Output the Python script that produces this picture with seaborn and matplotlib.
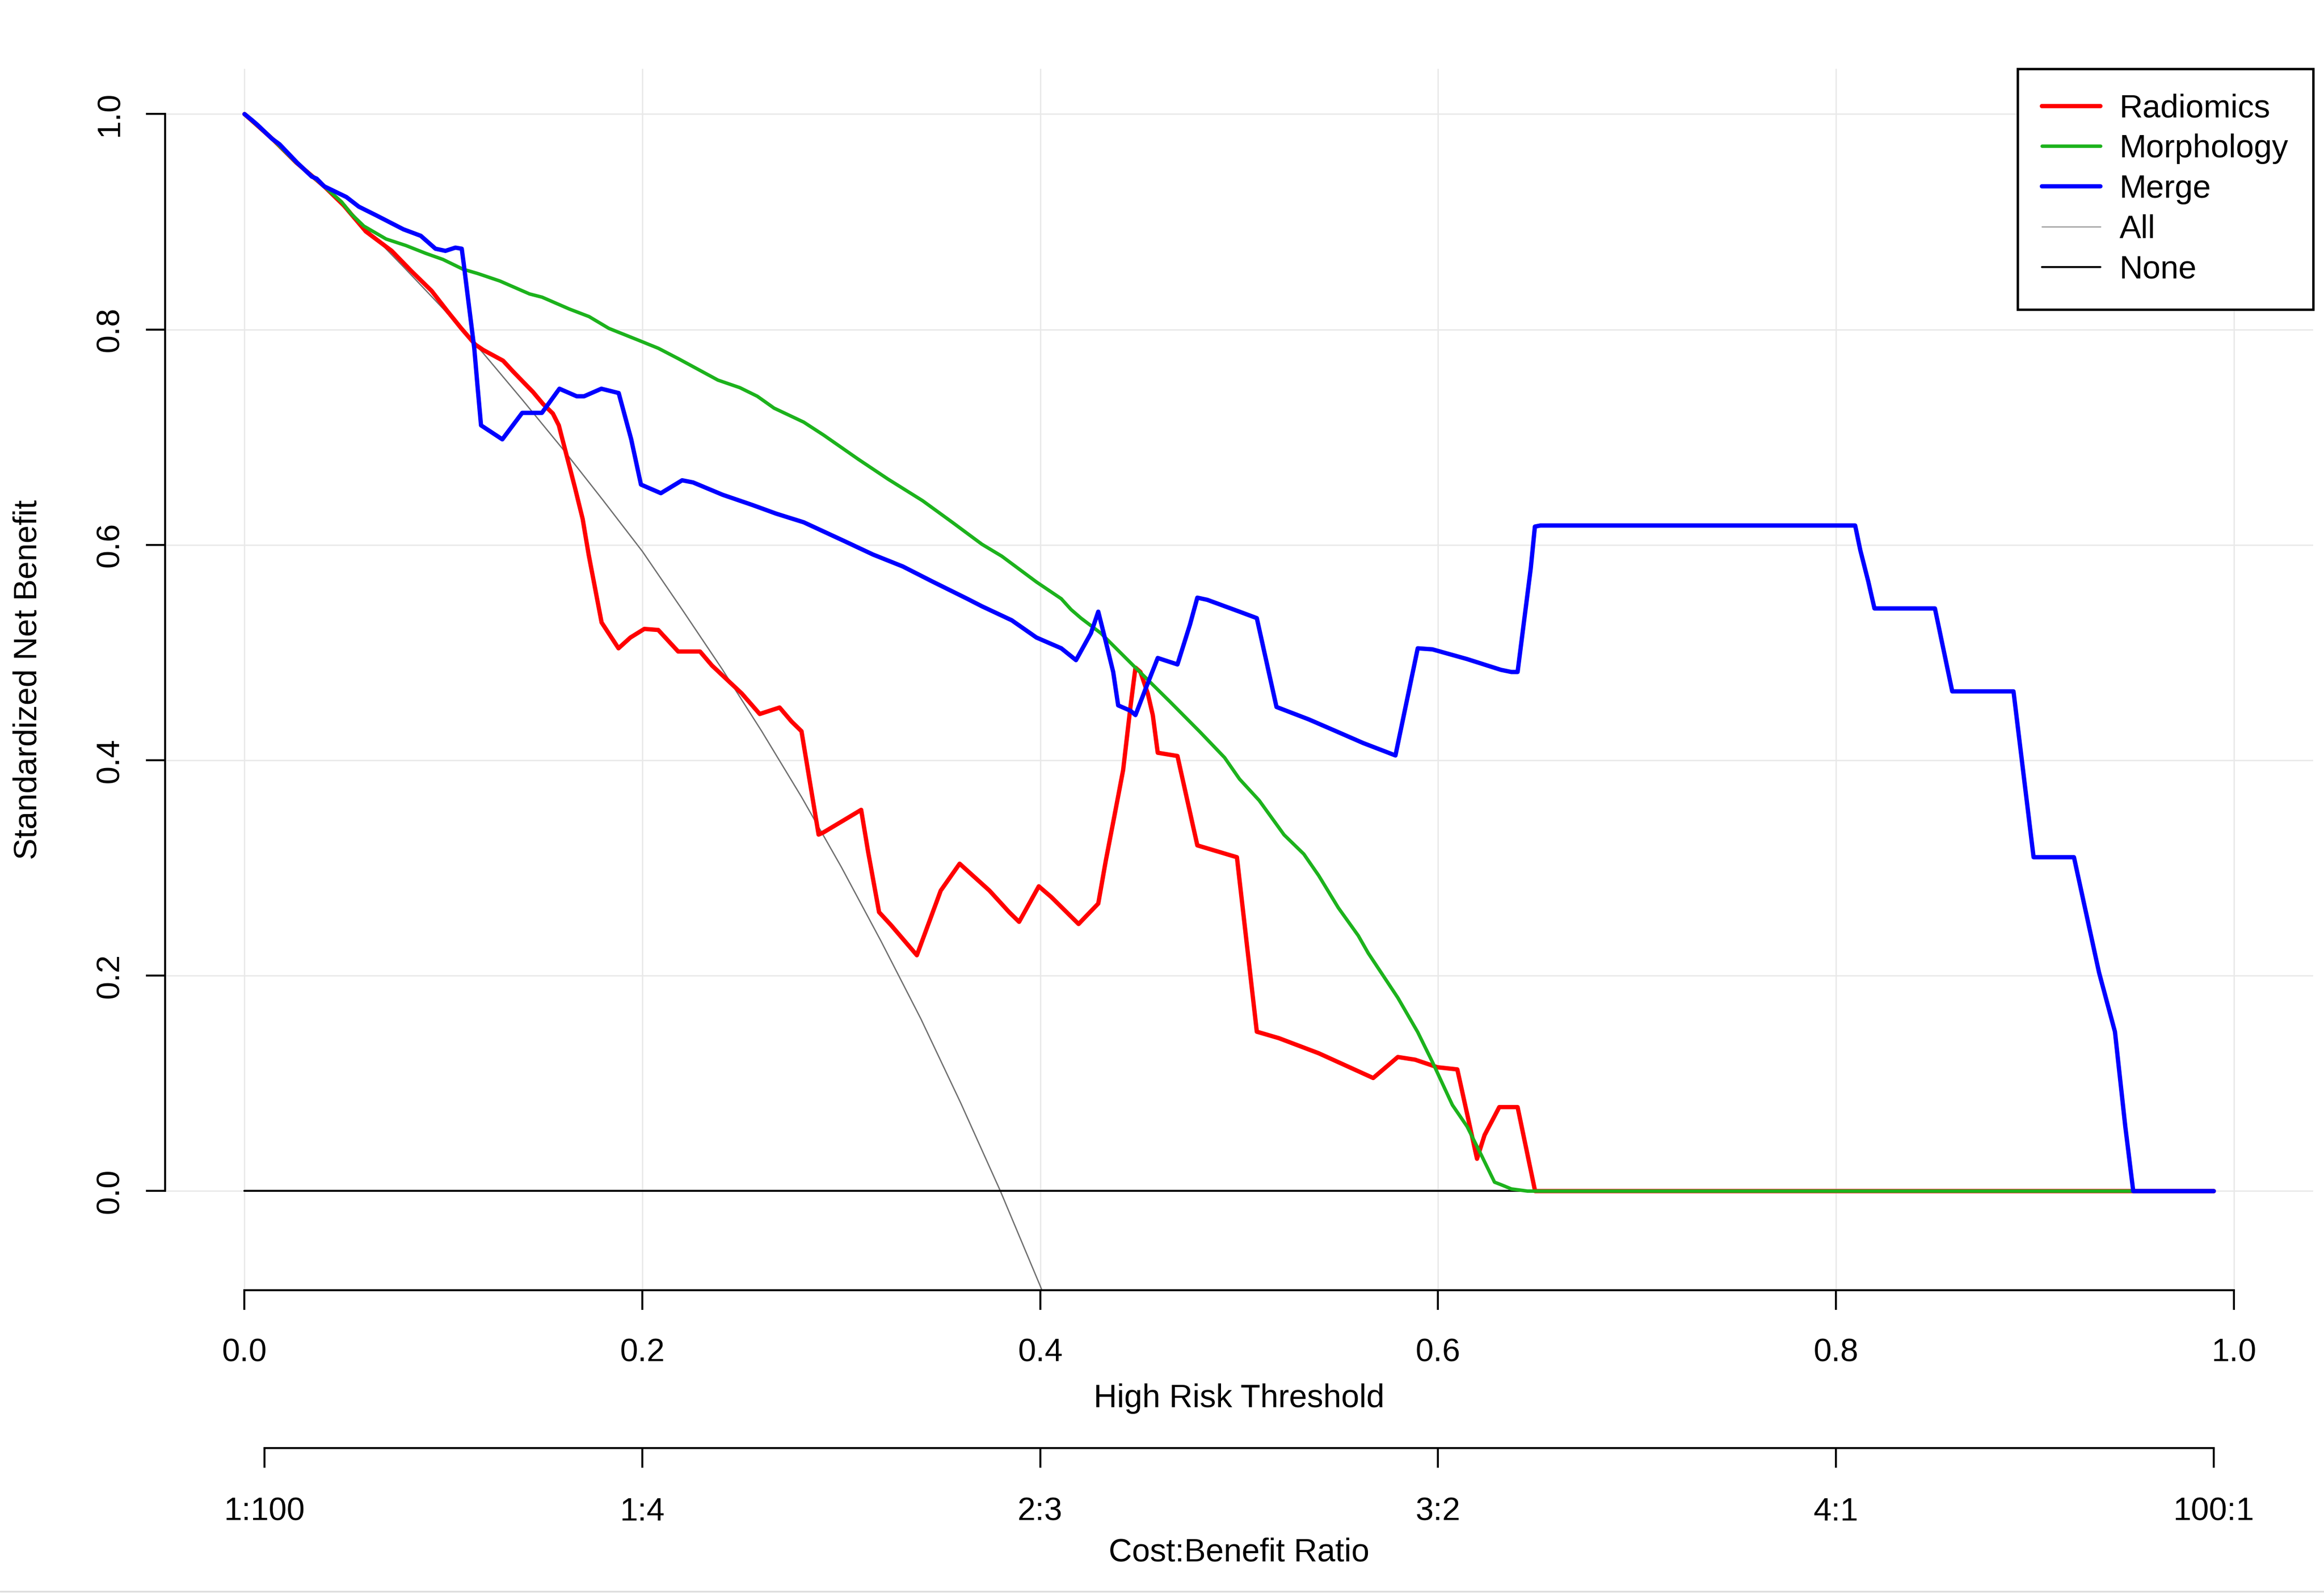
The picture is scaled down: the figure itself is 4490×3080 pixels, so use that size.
import matplotlib
matplotlib.use("Agg")
import matplotlib.pyplot as plt
import seaborn as sns
from matplotlib.lines import Line2D

# --- Data: standardized net benefit ---
radiomics_x = [0.0, 0.014, 0.026, 0.040, 0.050, 0.061, 0.074, 0.084, 0.094, 0.102, 0.109, 0.116,
               0.120, 0.130, 0.135, 0.145, 0.150, 0.155, 0.158, 0.166, 0.170, 0.173, 0.176, 0.1795,
               0.188, 0.194, 0.201, 0.208, 0.218, 0.229, 0.235, 0.250, 0.259, 0.269, 0.275, 0.280,
               0.2886, 0.291, 0.310, 0.3135, 0.319, 0.325, 0.338, 0.350, 0.3595, 0.3745, 0.3844,
               0.3894, 0.3993, 0.4056, 0.4193, 0.4292, 0.433, 0.438, 0.4417, 0.4454, 0.4479, 0.4504,
               0.4541, 0.4566, 0.4591, 0.469, 0.479, 0.4989, 0.5089, 0.520, 0.540, 0.5674, 0.5798,
               0.5885, 0.5997, 0.6097, 0.6196, 0.6234, 0.6308, 0.640, 0.6488, 0.99]
radiomics_y = [1.0, 0.977, 0.955, 0.933, 0.915, 0.891, 0.873, 0.854, 0.836, 0.817, 0.801, 0.786,
               0.781, 0.771, 0.761, 0.742, 0.731, 0.722, 0.711, 0.654, 0.624, 0.591, 0.562, 0.528,
               0.504, 0.514, 0.522, 0.521, 0.501, 0.501, 0.488, 0.462, 0.443, 0.449, 0.436, 0.427,
               0.331, 0.333, 0.354, 0.315, 0.259, 0.247, 0.219, 0.279, 0.304, 0.279, 0.259,
               0.250, 0.283, 0.273, 0.248, 0.267, 0.307, 0.355, 0.391, 0.450, 0.486, 0.482,
               0.462, 0.442, 0.407, 0.404, 0.321, 0.310, 0.148, 0.142, 0.128, 0.105, 0.1245,
               0.122, 0.115, 0.113, 0.030, 0.052, 0.078, 0.078, 0.0, 0.0]

morphology_x = [0.0, 0.014, 0.026, 0.040, 0.0488, 0.0538, 0.060, 0.0712, 0.0811, 0.0911, 0.0998,
                0.1098, 0.1172, 0.1284, 0.1433, 0.1496, 0.1633, 0.1732, 0.1832, 0.1981, 0.2081,
                0.218, 0.238, 0.249, 0.2578, 0.2662, 0.2811, 0.2911, 0.3085, 0.3234, 0.3409,
                0.3558, 0.3707, 0.3807, 0.3981, 0.4106, 0.4155, 0.4205, 0.4305, 0.4479, 0.4653,
                0.4803, 0.4927, 0.5002, 0.5101, 0.5226, 0.5325, 0.540, 0.5499, 0.5599, 0.5649,
                0.5798, 0.5898, 0.5972, 0.6072, 0.6146, 0.6221, 0.6284, 0.6316, 0.6369, 0.645, 0.99]
morphology_y = [1.0, 0.977, 0.955, 0.933, 0.9185, 0.907, 0.896, 0.884, 0.878, 0.8707, 0.865,
                0.856, 0.852, 0.845, 0.833, 0.830, 0.819, 0.812, 0.801, 0.790, 0.7825,
                0.773, 0.753, 0.746, 0.738, 0.727, 0.714, 0.702, 0.6796, 0.6612, 0.641,
                0.621, 0.6006, 0.5895, 0.5656, 0.550, 0.540, 0.532, 0.518, 0.486, 0.4543,
                0.4264, 0.4025, 0.3826, 0.3627, 0.3308, 0.313, 0.293, 0.263, 0.2372, 0.221,
                0.1795, 0.1476, 0.1198, 0.080, 0.060, 0.0322, 0.0083, 0.006, 0.002, 0.0, 0.0]

merge_x = [0.0, 0.004, 0.0065, 0.0139, 0.0176, 0.0264, 0.0338, 0.0363, 0.040, 0.0512, 0.0575,
           0.0662, 0.0799, 0.0886, 0.096, 0.101, 0.106, 0.1092, 0.1102, 0.1135, 0.1155, 0.1172,
           0.1189, 0.1296, 0.1396, 0.1495, 0.1583, 0.167, 0.1707, 0.1794, 0.1881, 0.1944, 0.1993,
           0.2093, 0.220, 0.2255, 0.2404, 0.2554, 0.2673, 0.2811, 0.301, 0.316, 0.3309, 0.3458,
           0.3633, 0.3707, 0.3857, 0.3981, 0.4106, 0.418, 0.4255, 0.4292, 0.433, 0.4367, 0.4392,
           0.4454, 0.4479, 0.4529, 0.4591, 0.469, 0.4753, 0.479, 0.484, 0.5002, 0.5089, 0.5188,
           0.535, 0.5475, 0.5624, 0.5786, 0.5898, 0.5972, 0.6146, 0.6316, 0.6369, 0.640, 0.6466,
           0.6487, 0.6514, 0.8097, 0.8123, 0.8163, 0.8194, 0.8498, 0.8585, 0.8893, 0.8994, 0.9197,
           0.9323, 0.9403, 0.9455, 0.9495, 0.99]
merge_y = [1.0, 0.994, 0.990, 0.977, 0.972, 0.955, 0.942, 0.940, 0.933, 0.923, 0.914,
           0.906, 0.893, 0.887, 0.875, 0.873, 0.876, 0.875, 0.861, 0.812, 0.7825, 0.746,
           0.711, 0.698, 0.7226, 0.7226, 0.745, 0.738, 0.738, 0.745, 0.741, 0.698, 0.656,
           0.648, 0.660, 0.658, 0.6465, 0.637, 0.629, 0.621, 0.604, 0.591, 0.580, 0.566,
           0.550, 0.543, 0.530, 0.514, 0.504, 0.493, 0.518, 0.538, 0.510, 0.482, 0.451,
           0.446, 0.442, 0.466, 0.495, 0.489, 0.526, 0.551, 0.549, 0.538, 0.532, 0.4495,
           0.438, 0.428, 0.416, 0.4045, 0.504, 0.503, 0.494, 0.484, 0.482, 0.482, 0.578,
           0.617, 0.618, 0.618, 0.595, 0.566, 0.541, 0.541, 0.464, 0.464, 0.310, 0.310,
           0.203, 0.148, 0.060, 0.0, 0.0]

all_x = [0.00, 0.02, 0.04, 0.06, 0.08, 0.10, 0.12, 0.14, 0.16, 0.18, 0.20, 0.22, 0.24,
         0.26, 0.28, 0.30, 0.32, 0.34, 0.36, 0.38, 0.40, 0.42]
all_y = [1.000, 0.967, 0.932, 0.896, 0.858, 0.819, 0.778, 0.734, 0.689, 0.642, 0.594, 0.540, 0.485,
         0.427, 0.366, 0.301, 0.232, 0.160, 0.082, 0.000, -0.088, -0.181]

none_x = [0.0, 0.99]
none_y = [0.0, 0.0]

threshold_ticks = [0.0, 0.2, 0.4, 0.6, 0.8, 1.0]
threshold_labels = ["0.0", "0.2", "0.4", "0.6", "0.8", "1.0"]
benefit_ticks = [0.0, 0.2, 0.4, 0.6, 0.8, 1.0]
benefit_labels = ["0.0", "0.2", "0.4", "0.6", "0.8", "1.0"]
ratio_ticks = [0.01, 0.2, 0.4, 0.6, 0.8, 0.99]
ratio_labels = ["1:100", "1:4", "2:3", "3:2", "4:1", "100:1"]

# --- Style ---
sns.set_theme(style="white")
plt.rcParams['font.family'] = ['Liberation Sans', 'DejaVu Sans']
plt.rcParams['text.color'] = 'black'
FS = 15

fig = plt.figure(figsize=(4490 / 300, 3080 / 300), dpi=300)
left, width = 0.07098, 0.9244
ax = fig.add_axes([left, 0.1906, width, 0.7662])
ax.set_xlim(-0.04, 1.04)
ax.set_ylim(-0.092, 1.042)

ax.set_xticks(threshold_ticks)
ax.set_xticklabels(threshold_labels)
ax.set_yticks(benefit_ticks)
ax.set_yticklabels(benefit_labels, rotation=90, va="center")
ax.grid(True, color="#e8e8e8", linewidth=0.6)
ax.set_axisbelow(True)

for side in ["top", "right"]:
    ax.spines[side].set_visible(False)
for side in ["left", "bottom"]:
    ax.spines[side].set_color("black")
    ax.spines[side].set_linewidth(0.9)
    ax.spines[side].set_bounds(0, 1)
ax.tick_params(axis="both", bottom=True, left=True, direction="out", length=9, width=0.9,
               color="black", labelsize=FS, labelcolor="black")
ax.tick_params(axis="x", pad=13)
ax.tick_params(axis="y", pad=9.5)

# --- Curves (All / None first, as the dca plot does) ---
sns.lineplot(x=all_x, y=all_y, ax=ax, color="#6e6e6e", linewidth=0.6, sort=False, estimator=None)
sns.lineplot(x=none_x, y=none_y, ax=ax, color="black", linewidth=0.9, sort=False, estimator=None)
sns.lineplot(x=radiomics_x, y=radiomics_y, ax=ax, color="#ff0000", linewidth=2.0, sort=False, estimator=None)
sns.lineplot(x=morphology_x, y=morphology_y, ax=ax, color="#1cb21c", linewidth=1.6, sort=False, estimator=None)
sns.lineplot(x=merge_x, y=merge_y, ax=ax, color="#0000ff", linewidth=2.0, sort=False, estimator=None)
ax.set_xlabel("")
ax.set_ylabel("")

handles = [
    Line2D([], [], color="#ff0000", linewidth=2.0),
    Line2D([], [], color="#1cb21c", linewidth=1.6),
    Line2D([], [], color="#0000ff", linewidth=2.0),
    Line2D([], [], color="#a0a0a0", linewidth=0.6),
    Line2D([], [], color="black", linewidth=0.9),
]
leg = ax.legend(handles, ["Radiomics", "Morphology", "Merge", "All", "None"],
                loc="upper right", bbox_to_anchor=(1, 1), borderaxespad=0, frameon=True,
                fancybox=False, framealpha=1, edgecolor="black", fontsize=FS,
                handlelength=1.8, handletextpad=0.6, labelspacing=0.3, borderpad=0.76)
leg.get_frame().set_linewidth(1.1)

# --- Second axis: cost:benefit ratio ---
ax2 = fig.add_axes([left, 0.09156, width, 0.0001])
ax2.set_xlim(-0.04, 1.04)
ax2.patch.set_visible(False)
ax2.set_yticks([])
for side in ["top", "right", "left"]:
    ax2.spines[side].set_visible(False)
ax2.spines["bottom"].set_color("black")
ax2.spines["bottom"].set_linewidth(0.9)
ax2.spines["bottom"].set_bounds(0.01, 0.99)
ax2.set_xticks(ratio_ticks)
ax2.set_xticklabels(ratio_labels)
ax2.tick_params(axis="x", bottom=True, direction="out", length=9, width=0.9, color="black",
                labelsize=FS, labelcolor="black", pad=13.5)

center = left + width / 2
fig.text(center, 0.1227, "High Risk Threshold", ha="center", va="center", fontsize=FS)
fig.text(center, 0.0260, "Cost:Benefit Ratio", ha="center", va="center", fontsize=FS)
fig.text(0.0121, 0.1906 + 0.7662 / 2, "Standardized Net Benefit", ha="center", va="center",
         rotation=90, fontsize=FS)

fig.add_artist(Line2D([0, 1], [0.0016, 0.0016], transform=fig.transFigure, color="#dddddd", linewidth=0.8))

fig.savefig("out.png", dpi=300)
